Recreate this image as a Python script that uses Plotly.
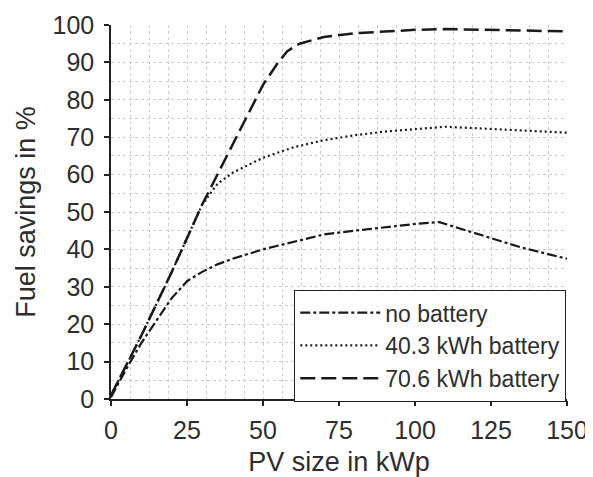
import plotly.graph_objects as go

x_none = [0, 5, 10, 15, 20, 25, 30, 35, 40, 50, 60, 70, 80, 90, 100, 108, 115, 125, 135, 150]
y_none = [0.5, 8, 15, 21, 27, 31.5, 34, 36, 37.5, 40, 42, 44, 45, 46, 46.8, 47.3, 45.5, 43, 40.5, 37.5]

x_403 = [0, 10, 20, 25, 30, 35, 40, 50, 60, 70, 80, 90, 100, 110, 125, 150]
y_403 = [1, 17, 34, 43, 52, 57.5, 60.5, 64.5, 67.3, 69.2, 70.5, 71.5, 72.2, 72.8, 72.2, 71.2]

x_706 = [0, 10, 20, 25, 30, 40, 50, 55, 58, 62, 70, 80, 90, 100, 110, 125, 150]
y_706 = [1, 17, 34, 43, 52, 68, 84, 90, 93, 95, 96.8, 97.8, 98.3, 98.7, 98.9, 98.7, 98.3]

names = ["no battery", "40.3 kWh battery", "70.6 kWh battery"]
x_ticks = [0, 25, 50, 75, 100, 125, 150]
y_ticks = list(range(0, 101, 10))

fig = go.Figure()
fig.add_trace(go.Scatter(x=x_none, y=y_none, mode="lines", name=names[0],
                         line=dict(color="#1a1a1a", width=2.2, dash="10px,3px,3px,3px")))
fig.add_trace(go.Scatter(x=x_403, y=y_403, mode="lines", name=names[1],
                         line=dict(color="#1a1a1a", width=2.2, dash="2px,3px")))
fig.add_trace(go.Scatter(x=x_706, y=y_706, mode="lines", name=names[2],
                         line=dict(color="#1a1a1a", width=2.5, dash="15px,6px")))

font = "Liberation Sans, Arial, sans-serif"
grid = dict(showgrid=True, gridcolor="#cccccc", griddash="dot", gridwidth=1)

# page body has an 8px default margin, so the figure is sized/offset to compensate
fig.update_layout(
    width=585, height=469,
    margin=dict(l=103, r=26, t=17, b=78),
    paper_bgcolor="white", plot_bgcolor="white",
    font=dict(family=font, color="#2e2e2e"),
    showlegend=True,
    legend=dict(x=0.998, xanchor="right", y=0.142, yanchor="middle",
                bordercolor="#222222", borderwidth=1.2, bgcolor="white",
                font=dict(size=23, family=font, color="#2e2e2e"),
                tracegroupgap=0, itemwidth=80),
    xaxis=dict(range=[0, 150], tickvals=x_ticks,
               ticks="outside", ticklen=5, tickcolor="#222222", tickwidth=1.5,
               showline=True, linecolor="#222222", linewidth=1.5,
               tickfont=dict(size=25), zeroline=False, automargin=False,
               ticklabeloverflow="allow", ticklabelstandoff=3,
               title=dict(text="PV size in kWp", font=dict(size=27), standoff=10),
               minor=dict(dtick=6.25, showgrid=True, gridcolor="#cccccc", griddash="dot", ticks=""),
               **grid),
    yaxis=dict(range=[0, 100], tickvals=y_ticks,
               ticks="outside", ticklen=5, tickcolor="#222222", tickwidth=1.5,
               showline=True, linecolor="#222222", linewidth=1.5,
               tickfont=dict(size=25), zeroline=False, automargin=False,
               ticklabelstandoff=5, ticklabeloverflow="allow",
               title=dict(text="Fuel savings in %", font=dict(size=27), standoff=9),
               minor=dict(dtick=5, showgrid=True, gridcolor="#cccccc", griddash="dot", ticks=""),
               **grid),
)

fig.write_html("out.html")
